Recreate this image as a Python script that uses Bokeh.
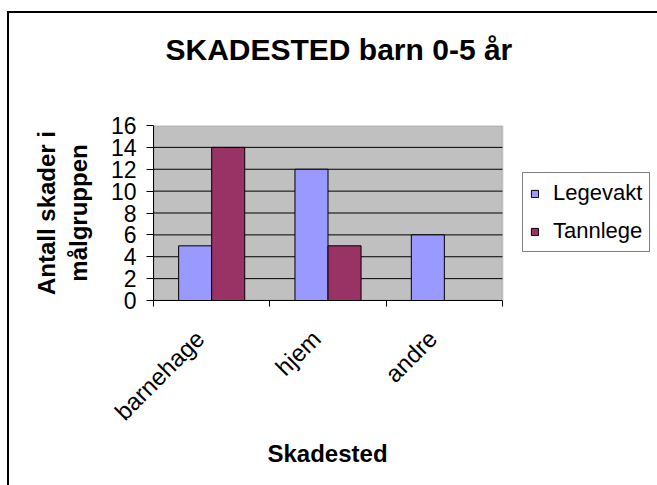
import math
from bokeh.plotting import figure
from bokeh.models import FixedTicker, Legend, LegendItem, ColumnDataSource, BoxAnnotation, Title
from bokeh.transform import dodge
from bokeh.embed import file_html
from bokeh.resources import INLINE

categories = ["barnehage", "hjem", "andre"]
legevakt = [5, 12, 6]
tannlege = [14, 5, 0]
y_ticks = [0, 2, 4, 6, 8, 10, 12, 14, 16]
series_names = ["Legevakt", "Tannlege"]
series_colors = ["#9999FF", "#993366"]
title_text = "SKADESTED barn 0-5 år"
y_label = "Antall skader i\nmålgruppen"
x_label = "Skadested"

FONT = "Liberation Sans"
BAR_W = 0.284
LABEL_SHIFT = 0.1
N = len(categories)
X_EXTRA = 4.332  # frame extends right to hold the legend

pos = [i + 0.5 for i in range(N)]
label_pos = [x - LABEL_SHIFT for x in pos]
src = ColumnDataSource(dict(x=pos, cat=categories, legevakt=legevakt, tannlege=tannlege))

p = figure(width=657, height=485, x_range=(0, X_EXTRA), y_range=(y_ticks[0], y_ticks[-1]),
           output_backend="svg", toolbar_location=None,
           min_border_left=153, min_border_right=0, min_border_top=125, min_border_bottom=185)

p.border_fill_color = None
p.background_fill_color = None
p.outline_line_color = None
p.styles = {
    "background": "linear-gradient(#000, #000) 8px 11px / 100% 2px no-repeat, "
                  "linear-gradient(#000, #000) 7px 11px / 2px 100% no-repeat, #fff"
}

# plot area (gray) limited to the category span
plot_area = BoxAnnotation(left=0, right=N, bottom=y_ticks[0], top=y_ticks[-1],
                          fill_color="#C0C0C0", fill_alpha=1,
                          line_color="#808080", line_width=2, level="underlay")
p.add_layout(plot_area)

# horizontal gridlines inside the plot area
grid_y = y_ticks[1:-1]
p.segment(x0=[0] * len(grid_y), x1=[N] * len(grid_y), y0=grid_y, y1=grid_y,
          line_color="black", line_width=1)

r1 = p.vbar(x=dodge("x", -BAR_W / 2, range=p.x_range), top="legevakt", width=BAR_W, source=src,
            fill_color=series_colors[0], line_color="black", line_width=1)
r2 = p.vbar(x=dodge("x", BAR_W / 2, range=p.x_range), top="tannlege", width=BAR_W, source=src,
            fill_color=series_colors[1], line_color="black", line_width=1)

# spacer between frame and title (stacked nearest the frame)
spacer = Title(text=" ", text_font_size="1px", standoff=57)
p.add_layout(spacer, "above")

# title
p.title.text = title_text
p.title.text_font = FONT
p.title.text_font_size = "30px"
p.title.text_font_style = "bold"
p.title.text_color = "black"
p.title.align = "left"
p.title.offset = 12
p.title.standoff = 0

# y axis
yax = p.yaxis[0]
yax.ticker = FixedTicker(ticks=y_ticks)
yax.major_label_text_font = FONT
yax.major_label_text_font_size = "23px"
yax.major_label_text_color = "black"
yax.major_tick_out = 7
yax.major_tick_in = 0
yax.minor_tick_line_color = None
yax.axis_line_color = "black"
yax.major_tick_line_color = "black"
yax.major_label_standoff = 10
yax.axis_label = y_label
yax.axis_label_text_font = FONT
yax.axis_label_text_font_size = "24px"
yax.axis_label_text_font_style = "bold"
yax.axis_label_text_color = "black"
yax.axis_label_standoff = 16

# x axis
xax = p.xaxis[0]
xax.bounds = (0, N)
xax.ticker = FixedTicker(ticks=label_pos, minor_ticks=list(range(N + 1)))
xax.major_label_overrides = {x: c for x, c in zip(label_pos, categories)}
xax.major_label_orientation = math.pi / 4
xax.major_label_text_font = FONT
xax.major_label_text_font_size = "24px"
xax.major_label_text_color = "black"
xax.major_label_standoff = 28
xax.major_tick_line_color = None
xax.minor_tick_line_color = "black"
xax.minor_tick_out = 6
xax.minor_tick_in = 0
xax.axis_line_color = "black"

# x-axis title, centred under the category span
x_title = Title(text=x_label, text_font=FONT, text_font_size="24px", text_font_style="bold",
                text_color="black", align="left", offset=114, standoff=0)
p.add_layout(x_title, "below")

p.xgrid.grid_line_color = None
p.ygrid.grid_line_color = None

legend = Legend(items=[LegendItem(label=series_names[0], renderers=[r1]),
                       LegendItem(label=series_names[1], renderers=[r2])],
                location=(369, 48))
legend.label_text_font = FONT
legend.label_text_font_size = "22px"
legend.label_text_color = "black"
legend.label_height = 22
legend.glyph_width = 9
legend.glyph_height = 9
legend.label_standoff = 14
legend.spacing = 12
legend.padding = 7
legend.margin = 0
legend.border_line_color = "black"
legend.border_line_width = 1
legend.background_fill_color = "white"
legend.background_fill_alpha = 1
p.add_layout(legend)

open("out.html", "w").write(file_html(p, INLINE))
